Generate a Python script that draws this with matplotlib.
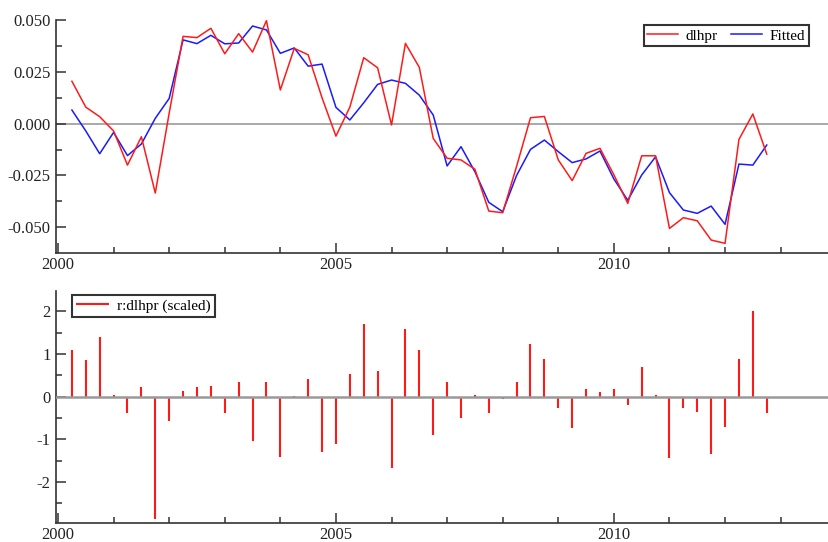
import numpy as np
import matplotlib
matplotlib.use("Agg")
import matplotlib.pyplot as plt
from matplotlib.ticker import MultipleLocator

# quarterly sample 2000(2) - 2012(4)
quarters = np.arange(2000.25, 2013.0, 0.25)

dlhpr = [0.0205, 0.0080, 0.0034,
         -0.0035, -0.0200, -0.0063, -0.0335,
         0.0051, 0.0422, 0.0416, 0.0461,
         0.0338, 0.0435, 0.0346, 0.0498,
         0.0163, 0.0364, 0.0333, 0.0125,
         -0.0060, 0.0080, 0.0319, 0.0270,
         -0.0006, 0.0388, 0.0272, -0.0071,
         -0.0167, -0.0175, -0.0220, -0.0422,
         -0.0430, -0.0206, 0.0029, 0.0035,
         -0.0175, -0.0275, -0.0143, -0.0119,
         -0.0247, -0.0385, -0.0155, -0.0155,
         -0.0506, -0.0454, -0.0469, -0.0562,
         -0.0578, -0.0076, 0.0047, -0.0147]

fitted = [0.0066, -0.0035, -0.0145,
          -0.0042, -0.0154, -0.0098, 0.0026,
          0.0122, 0.0405, 0.0387, 0.0427,
          0.0386, 0.0390, 0.0472, 0.0453,
          0.0340, 0.0366, 0.0278, 0.0288,
          0.0079, 0.0018, 0.0101, 0.0190,
          0.0211, 0.0195, 0.0138, 0.0042,
          -0.0204, -0.0111, -0.0232, -0.0380,
          -0.0425, -0.0250, -0.0124, -0.0079,
          -0.0135, -0.0188, -0.0170, -0.0132,
          -0.0267, -0.0370, -0.0248, -0.0160,
          -0.0333, -0.0417, -0.0433, -0.0398,
          -0.0486, -0.0195, -0.0200, -0.0103]

# scaled residuals
resid = [1.10, 0.86, 1.40,
         0.04, -0.39, 0.22, -2.86,
         -0.56, 0.14, 0.22, 0.25,
         -0.39, 0.35, -1.04, 0.35,
         -1.41, 0.01, 0.42, -1.31,
         -1.10, 0.53, 1.71, 0.60,
         -1.68, 1.58, 1.10, -0.91,
         0.35, -0.49, 0.03, -0.39,
         -0.05, 0.35, 1.23, 0.89,
         -0.26, -0.73, 0.18, 0.12,
         0.18, -0.19, 0.69, 0.05,
         -1.44, -0.26, -0.36, -1.35,
         -0.70, 0.89, 2.01, -0.39]

plt.rcParams['font.family'] = ['Liberation Serif', 'DejaVu Serif']
plt.rcParams['font.size'] = 12
plt.rcParams['axes.unicode_minus'] = False

W, H = 829, 542
fig = plt.figure(figsize=(W / 100, H / 100), dpi=100)

# axes boxes in pixels (left, top, right, bottom)
def px_axes(l, t, r, b):
    return fig.add_axes([l / W, 1 - b / H, (r - l) / W, (b - t) / H])

ax1 = px_axes(56, 19.8, 829, 253)
ax2 = px_axes(56, 290.7, 829, 523.3)

def style(ax):
    for s in ['top', 'right']:
        ax.spines[s].set_visible(False)
    for s in ['left', 'bottom']:
        ax.spines[s].set_color('#333333')
        ax.spines[s].set_linewidth(1.2)
    ax.set_xlim(1999.964, 2013.87)
    ax.xaxis.set_major_locator(MultipleLocator(5))
    ax.xaxis.set_minor_locator(MultipleLocator(1))
    ax.tick_params(which='both', direction='in', color='#333333', width=1.1,
                   labelcolor='#222222', labelsize=12)
    ax.tick_params(which='major', length=7)
    ax.tick_params(which='minor', length=4)
    ax.tick_params(axis='x', pad=3)
    ax.tick_params(axis='y', pad=4)

# fitted vs actual
style(ax1)
ax1.axhline(0, color='#999999', lw=1.2, zorder=1)
ax1.plot(quarters, dlhpr, color='#ff1a1a', lw=1.1, label='dlhpr', zorder=3)
ax1.plot(quarters, fitted, color='#1a1aff', lw=1.1, label='Fitted', zorder=2)
ax1.set_ylim(-0.06246, 0.0502)
ax1.yaxis.set_major_locator(MultipleLocator(0.025))
ax1.yaxis.set_minor_locator(MultipleLocator(0.0125))
ax1.yaxis.set_major_formatter(matplotlib.ticker.FormatStrFormatter('%.3f'))
leg1 = ax1.legend(loc='upper right', bbox_to_anchor=(809 / W, 1 - 25 / H),
                  bbox_transform=fig.transFigure, ncol=2, fontsize=11,
                  frameon=True, fancybox=False, borderaxespad=0,
                  handlelength=2.0, handletextpad=0.5, columnspacing=0.9,
                  borderpad=0.25)
leg1.get_frame().set_edgecolor('black')
leg1.get_frame().set_linewidth(1.5)

# scaled residuals
style(ax2)
ax2.vlines(quarters, 0, resid, color='#ff1a1a', lw=1.5, label='r:dlhpr (scaled)', zorder=2)
ax2.axhline(0, color='#999999', lw=1.8, zorder=3)
ax2.set_ylim(-2.972, 2.488)
ax2.yaxis.set_major_locator(MultipleLocator(1))
ax2.yaxis.set_minor_locator(MultipleLocator(0.5))
leg2 = ax2.legend(loc='upper left', bbox_to_anchor=(72 / W, 1 - 295 / H),
                  bbox_transform=fig.transFigure, fontsize=11,
                  frameon=True, fancybox=False, borderaxespad=0,
                  handlelength=2.2, handletextpad=0.5, borderpad=0.25)
leg2.get_frame().set_edgecolor('black')
leg2.get_frame().set_linewidth(1.5)

fig.savefig('out.png', dpi=100)
